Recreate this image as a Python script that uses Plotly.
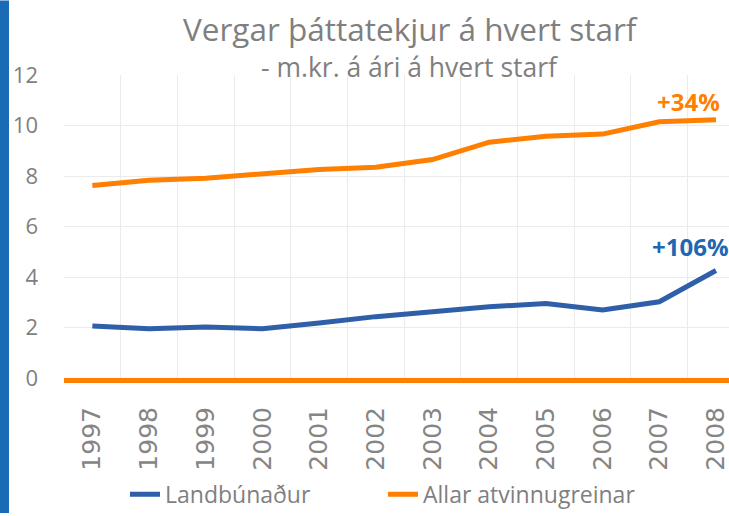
import plotly.graph_objects as go

years = ["1997", "1998", "1999", "2000", "2001", "2002", "2003", "2004", "2005", "2006", "2007", "2008"]
landbunadur = [2.06, 1.95, 2.02, 1.95, 2.18, 2.43, 2.62, 2.82, 2.95, 2.69, 3.02, 4.26]
allar = [7.62, 7.83, 7.91, 8.09, 8.26, 8.35, 8.65, 9.34, 9.57, 9.66, 10.15, 10.23]
series_names = ["Landbúnaður", "Allar atvinnugreinar"]
change_labels = ["+106%", "+34%"]
title_text = "Vergar þáttatekjur á hvert starf"
subtitle_text = "- m.kr. á ári á hvert starf"

BLUE = "#2E5FA8"
BLUE_TXT = "#1F67B1"
ORANGE = "#FF7F00"
GRAY = "#7F7F7F"
FONT = "Open Sans"

W, H = 729, 516
ML, MR, MT, MB = 64, 0, 75, 136
PW = W - ML - MR
PH = H - MT - MB

fig = go.Figure()
fig.add_trace(go.Scatter(x=years, y=landbunadur, name=series_names[0], mode="lines",
                         line=dict(color=BLUE, width=5)))
fig.add_trace(go.Scatter(x=years, y=allar, name=series_names[1], mode="lines",
                         line=dict(color=ORANGE, width=5)))

def px_x(x):
    return (x - ML) / PW

def px_y(y):
    return (H - MB - y) / PH

fig.update_layout(
    width=W, height=H,
    margin=dict(l=ML, r=MR, t=MT, b=MB),
    paper_bgcolor="white", plot_bgcolor="white",
    font=dict(family=FONT, color=GRAY),
    showlegend=True,
    legend=dict(orientation="h", x=px_x(125), xanchor="left", y=px_y(497), yanchor="middle",
                font=dict(family=FONT, size=23, color=GRAY), itemwidth=30,
                entrywidth=213, entrywidthmode="pixels", traceorder="normal"),
    xaxis=dict(type="category", range=[-0.5, 11.23], tickson="boundaries",
               showgrid=True, gridcolor="#EBEBEB", gridwidth=1,
               showline=True, linecolor=ORANGE, linewidth=5, ticks="",
               tickangle=-90, tickfont=dict(family="DejaVu Sans", size=25, color="#858585"),
               ticklabelstandoff=14, zeroline=False),
    yaxis=dict(range=[0, 12], dtick=2, showgrid=True, gridcolor="#EBEBEB", gridwidth=1,
               zeroline=False, showline=False, ticks="",
               tickfont=dict(family=FONT, size=22, color=GRAY), ticklabelstandoff=25),
    shapes=[dict(type="rect", xref="paper", yref="paper",
                 x0=px_x(0), x1=px_x(9), y0=px_y(H), y1=px_y(0),
                 fillcolor="#1A6BB5", line=dict(width=0), layer="above")],
    annotations=[
        dict(text=title_text, xref="paper", yref="paper", x=px_x(411), y=px_y(28),
             xanchor="center", yanchor="middle", showarrow=False,
             font=dict(family=FONT, size=31.5, color=GRAY)),
        dict(text=subtitle_text, xref="paper", yref="paper", x=px_x(410), y=px_y(67),
             xanchor="center", yanchor="middle", showarrow=False,
             font=dict(family=FONT, size=26.5, color=GRAY)),
        dict(text="<b>%s</b>" % change_labels[1], xref="paper", yref="paper", x=px_x(688), y=px_y(102),
             xanchor="center", yanchor="middle", showarrow=False,
             font=dict(family=FONT, size=24, color=ORANGE)),
        dict(text="<b>%s</b>" % change_labels[0], xref="paper", yref="paper", x=px_x(690), y=px_y(248),
             xanchor="center", yanchor="middle", showarrow=False,
             font=dict(family=FONT, size=24, color=BLUE_TXT)),
    ],
)

fig.write_html("out.html", config={"displayModeBar": False},
               post_script="document.body.style.margin='0';document.body.style.overflow='hidden';")
